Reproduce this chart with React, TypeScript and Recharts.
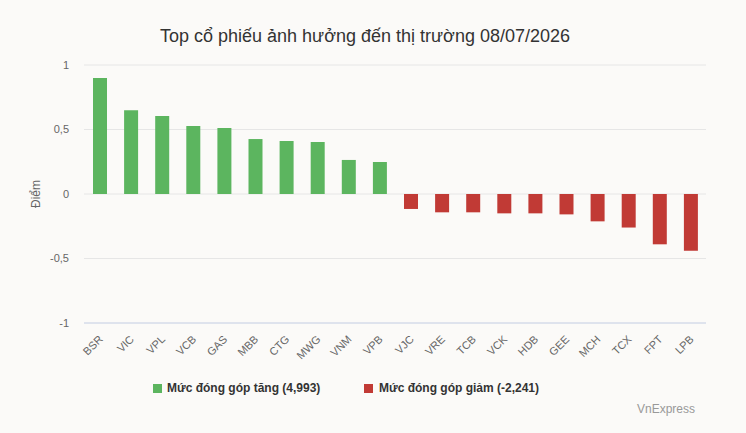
import React from "react";
import { BarChart, Bar, XAxis, YAxis, CartesianGrid } from "recharts";

const categories = ["BSR","VIC","VPL","VCB","GAS","MBB","CTG","MWG","VNM","VPB","VJC","VRE","TCB","VCK","HDB","GEE","MCH","TCX","FPT","LPB"];
const upValues = [0.9,0.65,0.605,0.527,0.512,0.426,0.411,0.403,0.264,0.248,null,null,null,null,null,null,null,null,null,null];
const downValues = [null,null,null,null,null,null,null,null,null,null,-0.116,-0.142,-0.142,-0.15,-0.15,-0.158,-0.212,-0.26,-0.39,-0.44];
const yTicks = [-1,-0.5,0,0.5,1];

const data = categories.map((c, i) => ({ name: c, up: upValues[i], down: downValues[i] }));

const FONT = "'Liberation Sans', Arial, Helvetica, sans-serif";
const GREEN = "#5cb55f";
const RED = "#c13a35";

const XTick = (props: any) => {
  const { x, y, payload } = props;
  const ax = x + 4;
  const ay = y + 9;
  return (
    <text x={ax} y={ay} transform={`rotate(-45 ${ax} ${ay})`} textAnchor="end" fill="#666" fontSize={11} fontFamily={FONT}>
      {payload.value}
    </text>
  );
};

export default function App() {
  return (
    <div style={{ position: "absolute", left: 0, top: 0, width: 746, height: 433, background: "#fbfaf8", fontFamily: FONT }}>
      <div style={{ position: "absolute", left: 0, width: 730, top: 26, textAlign: "center", fontSize: 18, color: "#333" }}>
        Top cổ phiếu ảnh hưởng đến thị trường 08/07/2026
      </div>
      <div style={{ position: "absolute", left: 36, top: 194, width: 0, height: 0 }}>
        <div style={{ position: "absolute", transform: "translate(-50%, -50%) rotate(-90deg)", fontSize: 12, color: "#666", whiteSpace: "nowrap" }}>
          Điểm
        </div>
      </div>
      <BarChart width={746} height={433} data={data} margin={{ top: 65, right: 40, bottom: 60, left: 0 }} barSize={14}>
        <CartesianGrid vertical={false} stroke="#e6e6e6" />
        <XAxis dataKey="name" interval={0} tickLine={false} axisLine={{ stroke: "#ccd6eb" }} height={50} tick={<XTick />} />
        <YAxis domain={[-1, 1]} ticks={yTicks} width={84} tickLine={false} axisLine={false} tickMargin={9}
          tick={{ fill: "#666", fontSize: 11, fontFamily: FONT }}
          tickFormatter={(v: number) => String(v).replace(".", ",")} />
        <Bar dataKey="up" stackId="a" fill={GREEN} isAnimationActive={false} />
        <Bar dataKey="down" stackId="a" fill={RED} isAnimationActive={false} />
      </BarChart>
      <div style={{ position: "absolute", left: 153, top: 381, display: "flex", alignItems: "center", fontSize: 12, fontWeight: "bold", color: "#333" }}>
        <span style={{ display: "inline-block", width: 9, height: 9, background: GREEN, marginRight: 5 }} />
        <span>Mức đóng góp tăng (4,993)</span>
      </div>
      <div style={{ position: "absolute", left: 364, top: 381, display: "flex", alignItems: "center", fontSize: 12, fontWeight: "bold", color: "#333" }}>
        <span style={{ display: "inline-block", width: 9, height: 9, background: RED, marginRight: 6 }} />
        <span>Mức đóng góp giảm (-2,241)</span>
      </div>
      <div style={{ position: "absolute", left: 637, top: 402, fontSize: 12, color: "#999" }}>VnExpress</div>
    </div>
  );
}
